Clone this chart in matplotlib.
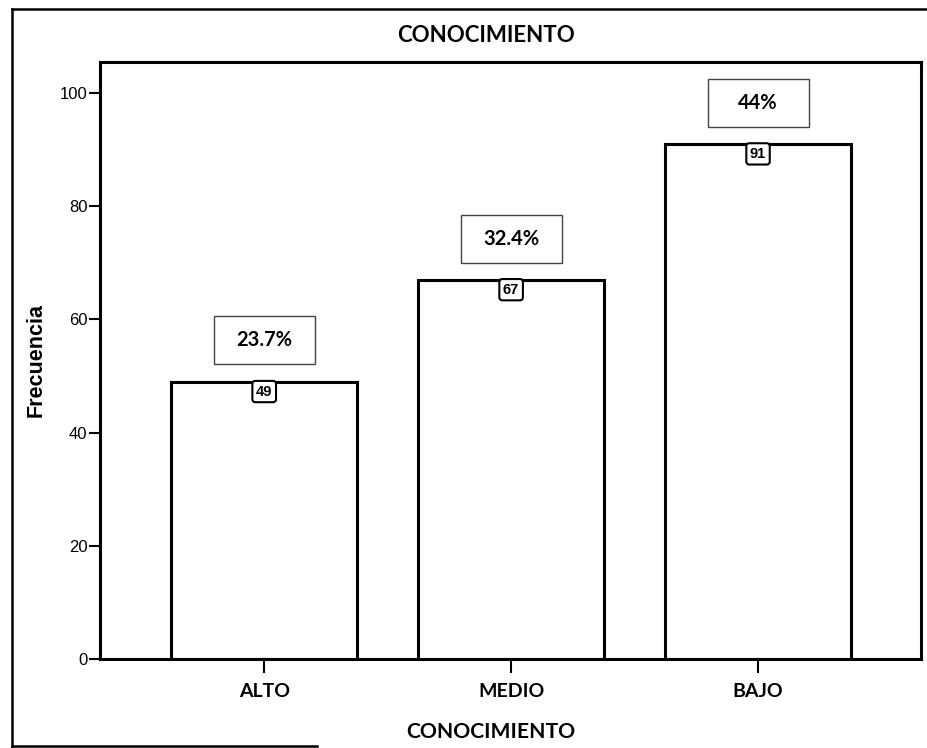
import matplotlib.pyplot as plt
import matplotlib.transforms as mtransforms
from matplotlib.patches import Rectangle
from matplotlib.lines import Line2D

categorias = ["ALTO", "MEDIO", "BAJO"]
frecuencias = [49, 67, 91]
porcentajes = ["23.7%", "32.4%", "44%"]

plt.rcParams["font.family"] = ["Lato", "DejaVu Sans"]

W, H = 928, 748
fig = plt.figure(figsize=(W / 100, H / 100), dpi=100)
ax = fig.add_axes([100/W, (H - 659)/H, 821/W, (659 - 62)/H])

x = list(range(len(categorias)))
ax.bar(x, frecuencias, width=0.755, color="white", edgecolor="black", linewidth=2.2)

for xi, f, p in zip(x, frecuencias, porcentajes):
    # count label in a small box just under the bar top
    ax.text(xi, f - 0.5, str(f), ha="center", va="top", fontsize=10.5, fontweight="bold",
            family="Liberation Sans",
            bbox=dict(boxstyle="round,pad=0.25,rounding_size=0.2", fc="white", ec="black", lw=1.5))
    # percentage box above the bar (fixed size 100x48 px)
    trans = fig.dpi_scale_trans + mtransforms.ScaledTranslation(xi, f + 7.3, ax.transData)
    ax.add_patch(Rectangle((-0.505, -0.24), 1.01, 0.48, transform=trans,
                           fc="white", ec="#444444", lw=1.0, clip_on=False))
    ax.text(xi, f + 7.3, p, ha="center", va="center", fontsize=14.5, fontweight="bold")

ax.set_xlim(-0.665, 2.66)
ax.set_ylim(0, 105.5)
ax.set_yticks([0, 20, 40, 60, 80, 100])
ax.set_xticks(x)
ax.set_xticklabels(categorias, fontsize=14, fontweight="bold")
for lab in ax.get_yticklabels():
    lab.set_family("Liberation Sans")
    lab.set_fontsize(12)
ax.tick_params(axis="y", direction="out", length=8, width=1.5, pad=1)
ax.tick_params(axis="x", direction="out", length=10, width=1.5, pad=7)
for s in ax.spines.values():
    s.set_linewidth(2.2)

ax.set_xlabel("CONOCIMIENTO", fontsize=15.2, fontweight="bold")
ax.xaxis.set_label_coords((491 - 100) / 821, -(732 - 659) / (659 - 62))
ax.xaxis.label.set_va("center")
ax.set_ylabel("Frecuencia", fontsize=15.5, fontweight="bold", family="Liberation Sans")
ax.yaxis.set_label_coords(-(100 - 36) / 821, (659 - 360) / (659 - 62))
ax.yaxis.label.set_va("center")

fig.text(486/W, 1 - 36/H, "CONOCIMIENTO", ha="center", va="center",
         fontsize=16, fontweight="bold")

# scanned outer frame
fig.add_artist(Line2D([12/W, 1], [1 - 9/H, 1 - 9/H], color="black", lw=1.8))
fig.add_artist(Line2D([12/W, 12/W], [1 - 9/H, 1 - 747/H], color="black", lw=1.8))
fig.add_artist(Line2D([12/W, 317/W], [1 - 746/H, 1 - 746/H], color="black", lw=1.8))

fig.savefig("out.png", dpi=100)
